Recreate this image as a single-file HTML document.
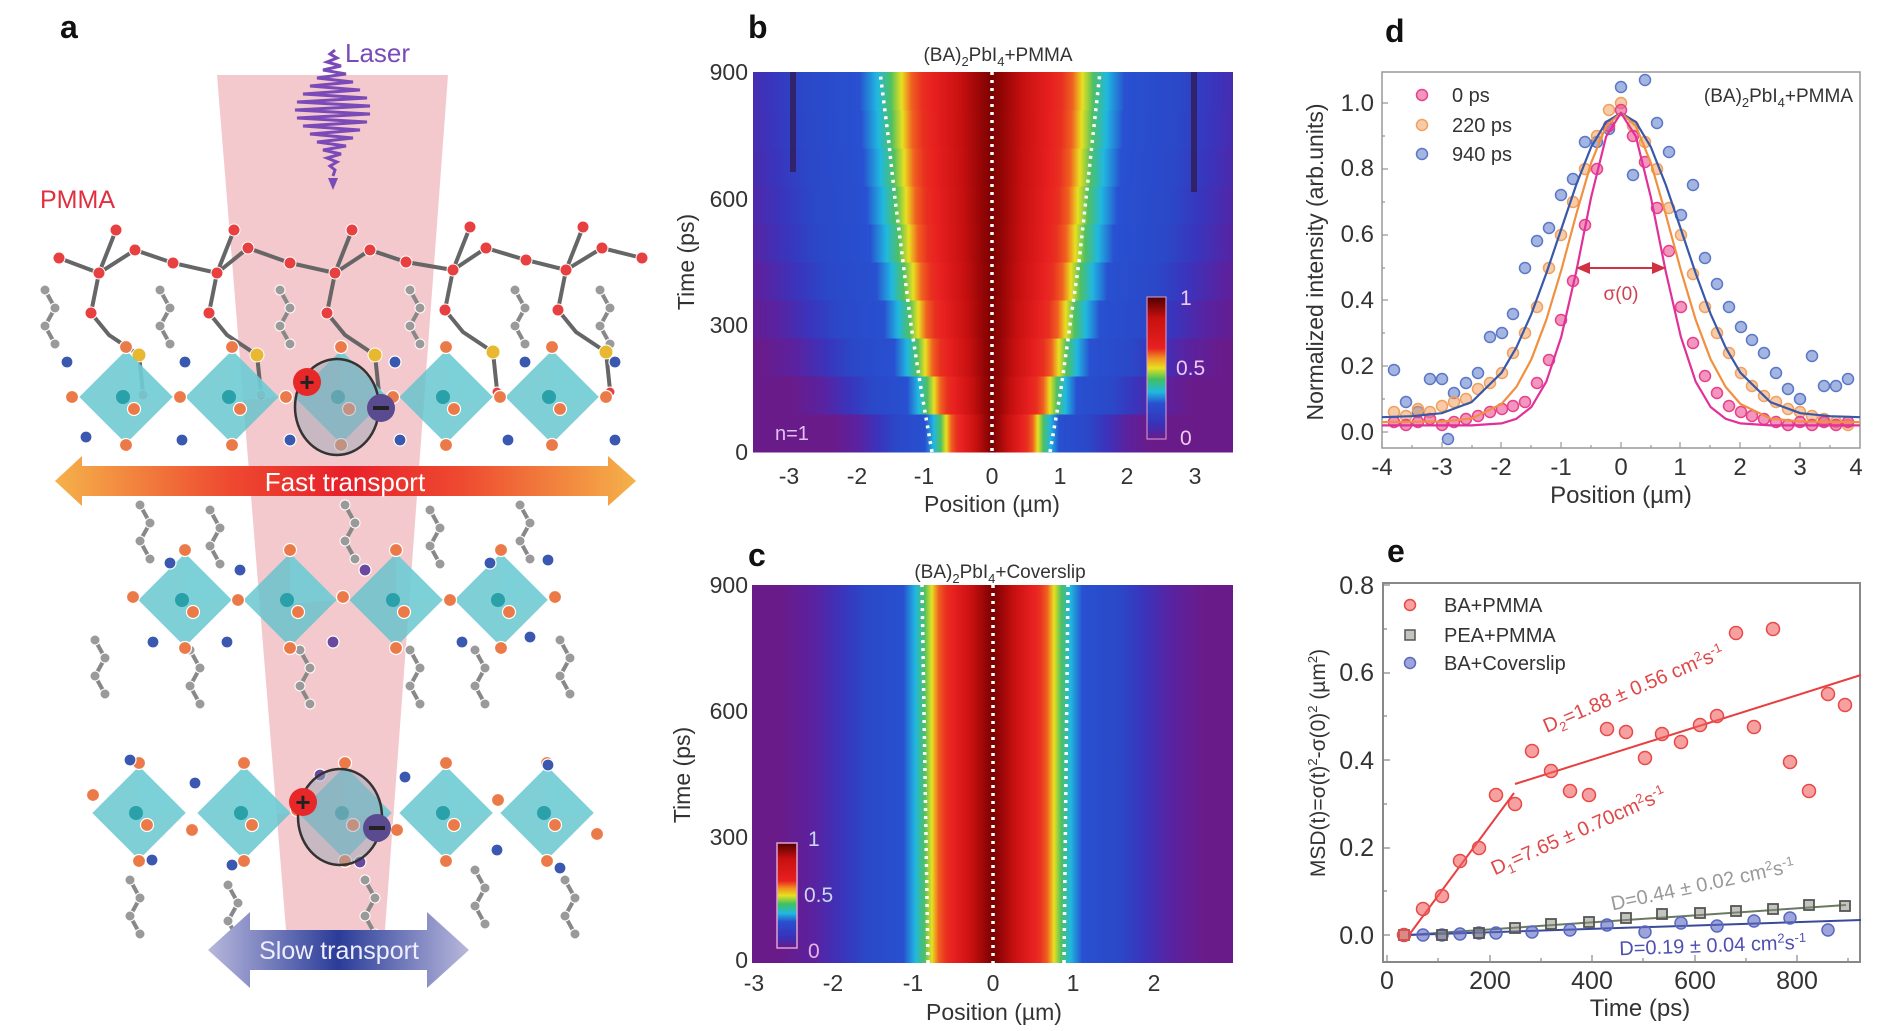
<!DOCTYPE html>
<html><head><meta charset="utf-8">
<style>
html,body{margin:0;padding:0;background:#fff;}
svg{display:block;font-family:"Liberation Sans",Arial,sans-serif;}
</style></head>
<body>
<svg width="1879" height="1031" viewBox="0 0 1879 1031" xmlns="http://www.w3.org/2000/svg" xmlns:xlink="http://www.w3.org/1999/xlink">
<defs>
<linearGradient id="fastg" x1="0" x2="1" y1="0" y2="0">
<stop offset="0" stop-color="#f5b24a"/><stop offset="0.3" stop-color="#ee4a30"/><stop offset="0.5" stop-color="#e8202a"/><stop offset="0.7" stop-color="#ee4a30"/><stop offset="1" stop-color="#f5b24a"/></linearGradient>
<linearGradient id="slowg" x1="0" x2="1" y1="0" y2="0">
<stop offset="0" stop-color="#b8b8dc"/><stop offset="0.5" stop-color="#2a3c98"/><stop offset="1" stop-color="#b8b8dc"/></linearGradient>
<linearGradient id="cbar" x1="0" x2="0" y1="1" y2="0">
<stop offset="0" stop-color="#6a1b8a"/><stop offset="0.1" stop-color="#3a30b8"/><stop offset="0.25" stop-color="#2850d0"/><stop offset="0.33" stop-color="#20b8e0"/><stop offset="0.42" stop-color="#40c060"/><stop offset="0.5" stop-color="#e8e020"/><stop offset="0.57" stop-color="#f09020"/><stop offset="0.64" stop-color="#e82020"/><stop offset="0.85" stop-color="#c81010"/><stop offset="1" stop-color="#500000"/></linearGradient>
<linearGradient id="hg" x1="0" x2="1" y1="0" y2="0">
<stop offset="0" stop-color="#6a1b8a"/>
<stop offset="0.078" stop-color="#5a22a0"/>
<stop offset="0.144" stop-color="#3a34bc"/>
<stop offset="0.2" stop-color="#2a48c8"/>
<stop offset="0.289" stop-color="#2850d0"/>
<stop offset="0.317" stop-color="#20b8e0"/>
<stop offset="0.339" stop-color="#50c060"/>
<stop offset="0.356" stop-color="#e8e020"/>
<stop offset="0.372" stop-color="#f06020"/>
<stop offset="0.389" stop-color="#e83020"/>
<stop offset="0.406" stop-color="#e82020"/>
<stop offset="0.45" stop-color="#c81010"/>
<stop offset="0.5" stop-color="#7a0000"/>
<stop offset="0.55" stop-color="#c81010"/>
<stop offset="0.594" stop-color="#e82020"/>
<stop offset="0.611" stop-color="#e83020"/>
<stop offset="0.628" stop-color="#f06020"/>
<stop offset="0.644" stop-color="#e8e020"/>
<stop offset="0.661" stop-color="#50c060"/>
<stop offset="0.683" stop-color="#20b8e0"/>
<stop offset="0.711" stop-color="#2850d0"/>
<stop offset="0.8" stop-color="#2a48c8"/>
<stop offset="0.856" stop-color="#3a34bc"/>
<stop offset="0.922" stop-color="#5a22a0"/>
<stop offset="1" stop-color="#6a1b8a"/>
</linearGradient>
<linearGradient id="b0" href="#hg" xlink:href="#hg" gradientUnits="userSpaceOnUse" x1="833" x2="1151" y1="0" y2="0"/>
<linearGradient id="b1" href="#hg" xlink:href="#hg" gradientUnits="userSpaceOnUse" x1="791" x2="1193" y1="0" y2="0"/>
<linearGradient id="b2" href="#hg" xlink:href="#hg" gradientUnits="userSpaceOnUse" x1="760" x2="1224" y1="0" y2="0"/>
<linearGradient id="b3" href="#hg" xlink:href="#hg" gradientUnits="userSpaceOnUse" x1="736" x2="1248" y1="0" y2="0"/>
<linearGradient id="b4" href="#hg" xlink:href="#hg" gradientUnits="userSpaceOnUse" x1="718" x2="1266" y1="0" y2="0"/>
<linearGradient id="b5" href="#hg" xlink:href="#hg" gradientUnits="userSpaceOnUse" x1="703" x2="1281" y1="0" y2="0"/>
<linearGradient id="b6" href="#hg" xlink:href="#hg" gradientUnits="userSpaceOnUse" x1="694" x2="1290" y1="0" y2="0"/>
<linearGradient id="b7" href="#hg" xlink:href="#hg" gradientUnits="userSpaceOnUse" x1="687" x2="1297" y1="0" y2="0"/>
<linearGradient id="b8" href="#hg" xlink:href="#hg" gradientUnits="userSpaceOnUse" x1="681" x2="1303" y1="0" y2="0"/>
<linearGradient id="b9" href="#hg" xlink:href="#hg" gradientUnits="userSpaceOnUse" x1="678" x2="1306" y1="0" y2="0"/>
<linearGradient id="cg" href="#hg" xlink:href="#hg" gradientUnits="userSpaceOnUse" x1="781" x2="1205" y1="0" y2="0"/>
<marker id="mp" markerUnits="userSpaceOnUse" markerWidth="16" markerHeight="16" refX="8" refY="8"><circle cx="8" cy="8" r="5.5" fill="#e8408a" fill-opacity="0.55" stroke="#e8408a" stroke-width="1.5"/></marker>
<marker id="mo" markerUnits="userSpaceOnUse" markerWidth="16" markerHeight="16" refX="8" refY="8"><circle cx="8" cy="8" r="5.5" fill="#f0a060" fill-opacity="0.55" stroke="#f0a060" stroke-width="1.5"/></marker>
<marker id="mb" markerUnits="userSpaceOnUse" markerWidth="16" markerHeight="16" refX="8" refY="8"><circle cx="8" cy="8" r="5.5" fill="#5a78c8" fill-opacity="0.55" stroke="#5a78c8" stroke-width="1.5"/></marker>
<marker id="er" markerUnits="userSpaceOnUse" markerWidth="18" markerHeight="18" refX="9" refY="9"><circle cx="9" cy="9" r="6.5" fill="#f06060" fill-opacity="0.6" stroke="#e84848" stroke-width="1.5"/></marker>
<marker id="eg" markerUnits="userSpaceOnUse" markerWidth="16" markerHeight="16" refX="8" refY="8"><rect x="3" y="3" width="10" height="10" fill="#8a8a80" fill-opacity="0.5" stroke="#555" stroke-width="1.8"/></marker>
<marker id="eb" markerUnits="userSpaceOnUse" markerWidth="16" markerHeight="16" refX="8" refY="8"><circle cx="8" cy="8" r="6" fill="#5a68c0" fill-opacity="0.6" stroke="#5a68c0" stroke-width="1.5"/></marker>
<g id="oct">
<rect x="-33" y="-33" width="66" height="66" fill="#5fc3cc" fill-opacity="0.8" transform="rotate(45)"/>
<polygon points="0,-47 47,0 0,4" fill="#7ad0d8" fill-opacity="0.6"/>
<circle cx="-3" cy="0" r="7" fill="#2aa0a8"/>
<circle cx="0" cy="-50" r="6.5" fill="#ec7a48" stroke="#fff" stroke-width="1.2"/>
<circle cx="0" cy="48" r="6.5" fill="#ec7a48" stroke="#fff" stroke-width="1.2"/>
<circle cx="8" cy="12" r="6.5" fill="#ec7a48" stroke="#fff" stroke-width="1.2"/>
</g>
<g id="ch">
<polyline points="0,0 10,18 0,36 10,54" fill="none" stroke="#888" stroke-width="4" stroke-linecap="round"/>
<circle cx="0" cy="0" r="5" fill="#9a9a9a" stroke="#fff" stroke-width="1"/>
<circle cx="10" cy="18" r="5" fill="#9a9a9a" stroke="#fff" stroke-width="1"/>
<circle cx="0" cy="36" r="5" fill="#9a9a9a" stroke="#fff" stroke-width="1"/>
<circle cx="10" cy="54" r="5" fill="#9a9a9a" stroke="#fff" stroke-width="1"/>
</g>
<g id="pend">
<line x1="0" y1="0" x2="17" y2="-43" stroke="#666" stroke-width="4"/>
<polyline points="0,0 -8,40 10,62 40,82 44,120" fill="none" stroke="#666" stroke-width="4"/>
<circle cx="17" cy="-43" r="6" fill="#e84040" stroke="#fff" stroke-width="1"/>
<circle cx="-8" cy="40" r="6" fill="#e84040" stroke="#fff" stroke-width="1"/>
<circle cx="40" cy="82" r="7" fill="#e8b830" stroke="#fff" stroke-width="1"/>
<circle cx="44" cy="122" r="5" fill="#e84040" stroke="#fff" stroke-width="1"/>
</g>
</defs>

<!-- ============ PANEL A ============ -->
<polygon points="217,75 448,75 385,930 286,930" fill="#f2c0c4" fill-opacity="0.85"/>
<polyline fill="none" stroke="#7a4ab8" stroke-width="3" points="335,50 330,54 337,58 327,62 341,66 323,70 346,74 317,78 353,82 310,86 360,90 303,94 367,98 297,102 370,106 295,110 370,114 297,118 367,122 303,126 360,130 310,134 353,138 317,142 346,146 323,150 341,154 327,158 337,162 330,166 335,170 333,176"/>
<polygon points="328,178 338,178 333,190" fill="#7a4ab8"/>
<text x="345" y="62" font-size="26" fill="#7a4ab8">Laser</text>
<text x="40" y="208" font-size="25" fill="#e03040">PMMA</text>

<use href="#ch" xlink:href="#ch" x="45" y="290"/>
<use href="#ch" xlink:href="#ch" x="160" y="290"/>
<use href="#ch" xlink:href="#ch" x="280" y="290"/>
<use href="#ch" xlink:href="#ch" x="410" y="290"/>
<use href="#ch" xlink:href="#ch" x="515" y="290"/>
<use href="#ch" xlink:href="#ch" x="600" y="290"/>
<polyline fill="none" stroke="#666" stroke-width="4" points="59,258 99,273 135,250 173,263 217,273 248,248 290,263 335,273 370,250 406,262 453,270 486,248 526,260 566,270 602,248 642,258"/>
<use href="#pend" xlink:href="#pend" x="99" y="273"/>
<use href="#pend" xlink:href="#pend" x="217" y="273"/>
<use href="#pend" xlink:href="#pend" x="335" y="273"/>
<use href="#pend" xlink:href="#pend" x="453" y="270"/>
<use href="#pend" xlink:href="#pend" x="566" y="270"/>
<g fill="#e84040" stroke="#fff" stroke-width="1">
<circle cx="59" cy="258" r="6"/><circle cx="99" cy="273" r="6"/><circle cx="135" cy="250" r="6"/><circle cx="173" cy="263" r="6"/><circle cx="217" cy="273" r="6"/><circle cx="248" cy="248" r="6"/><circle cx="290" cy="263" r="6"/><circle cx="335" cy="273" r="6"/><circle cx="370" cy="250" r="6"/><circle cx="406" cy="262" r="6"/><circle cx="453" cy="270" r="6"/><circle cx="486" cy="248" r="6"/><circle cx="526" cy="260" r="6"/><circle cx="566" cy="270" r="6"/><circle cx="602" cy="248" r="6"/><circle cx="642" cy="258" r="6"/>
</g>
<use href="#oct" xlink:href="#oct" x="126" y="397"/>
<use href="#oct" xlink:href="#oct" x="232" y="397"/>
<use href="#oct" xlink:href="#oct" x="341" y="397"/>
<use href="#oct" xlink:href="#oct" x="446" y="397"/>
<use href="#oct" xlink:href="#oct" x="552" y="397"/>
<g fill="#ec7a48" stroke="#fff" stroke-width="1.2"><circle cx="72" cy="397" r="6.5"/><circle cx="180" cy="397" r="6.5"/><circle cx="286" cy="397" r="6.5"/><circle cx="393" cy="397" r="6.5"/><circle cx="500" cy="397" r="6.5"/><circle cx="606" cy="397" r="6.5"/></g>
<g fill="#3a58b0" stroke="#fff" stroke-width="1.2"><circle cx="67" cy="362" r="6"/><circle cx="185" cy="362" r="6"/><circle cx="395" cy="362" r="6"/><circle cx="525" cy="362" r="6"/><circle cx="615" cy="362" r="6"/><circle cx="86" cy="437" r="6"/><circle cx="182" cy="440" r="6"/><circle cx="290" cy="440" r="6"/><circle cx="400" cy="440" r="6"/><circle cx="508" cy="440" r="6"/><circle cx="615" cy="440" r="6"/></g>
<use href="#ch" xlink:href="#ch" x="140" y="505"/>
<use href="#ch" xlink:href="#ch" x="210" y="510"/>
<use href="#ch" xlink:href="#ch" x="345" y="505"/>
<use href="#ch" xlink:href="#ch" x="430" y="510"/>
<use href="#ch" xlink:href="#ch" x="520" y="505"/>
<use href="#ch" xlink:href="#ch" x="95" y="640"/>
<use href="#ch" xlink:href="#ch" x="190" y="650"/>
<use href="#ch" xlink:href="#ch" x="300" y="650"/>
<use href="#ch" xlink:href="#ch" x="410" y="650"/>
<use href="#ch" xlink:href="#ch" x="475" y="650"/>
<use href="#ch" xlink:href="#ch" x="560" y="640"/>
<polygon points="55,481 82,456 82,466 608,466 608,456 636,481 608,506 608,496 82,496 82,506" fill="url(#fastg)"/>
<text x="345" y="491" text-anchor="middle" fill="#fff" font-size="26">Fast  transport</text>
<use href="#oct" xlink:href="#oct" x="185" y="600"/>
<use href="#oct" xlink:href="#oct" x="290" y="600"/>
<use href="#oct" xlink:href="#oct" x="396" y="600"/>
<use href="#oct" xlink:href="#oct" x="501" y="600"/>
<g fill="#ec7a48" stroke="#fff" stroke-width="1.2"><circle cx="133" cy="597" r="6.5"/><circle cx="238" cy="600" r="6.5"/><circle cx="343" cy="597" r="6.5"/><circle cx="450" cy="600" r="6.5"/><circle cx="555" cy="597" r="6.5"/></g>
<g fill="#3a58b0" stroke="#fff" stroke-width="1.2"><circle cx="170" cy="563" r="6"/><circle cx="240" cy="570" r="6"/><circle cx="490" cy="563" r="6"/><circle cx="548" cy="560" r="6"/><circle cx="153" cy="642" r="6"/><circle cx="227" cy="642" r="6"/><circle cx="462" cy="642" r="6"/><circle cx="530" cy="637" r="6"/></g>
<g fill="#6a48a0" stroke="#fff" stroke-width="1.2"><circle cx="365" cy="570" r="6"/><circle cx="333" cy="642" r="6"/></g>
<use href="#oct" xlink:href="#oct" x="139" y="813"/>
<use href="#oct" xlink:href="#oct" x="244" y="813"/>
<use href="#oct" xlink:href="#oct" x="345" y="813"/>
<use href="#oct" xlink:href="#oct" x="446" y="813"/>
<use href="#oct" xlink:href="#oct" x="547" y="813"/>
<g fill="#ec7a48" stroke="#fff" stroke-width="1.2"><circle cx="93" cy="795" r="6.5"/><circle cx="192" cy="830" r="6.5"/><circle cx="297" cy="810" r="6.5"/><circle cx="397" cy="830" r="6.5"/><circle cx="498" cy="800" r="6.5"/><circle cx="597" cy="834" r="6.5"/></g>
<g fill="#3a58b0" stroke="#fff" stroke-width="1.2"><circle cx="130" cy="760" r="6"/><circle cx="195" cy="783" r="6"/><circle cx="405" cy="777" r="6"/><circle cx="548" cy="765" r="6"/><circle cx="152" cy="860" r="6"/><circle cx="232" cy="865" r="6"/><circle cx="497" cy="850" r="6"/><circle cx="560" cy="868" r="6"/></g>
<g fill="#6a48a0" stroke="#fff" stroke-width="1.2"><circle cx="320" cy="775" r="6"/><circle cx="360" cy="862" r="6"/></g>
<use href="#ch" xlink:href="#ch" x="130" y="880"/>
<use href="#ch" xlink:href="#ch" x="228" y="885"/>
<use href="#ch" xlink:href="#ch" x="365" y="880"/>
<use href="#ch" xlink:href="#ch" x="475" y="870"/>
<use href="#ch" xlink:href="#ch" x="565" y="880"/>
<ellipse cx="337" cy="407" rx="42" ry="48" fill="#9aa8b8" fill-opacity="0.5" stroke="#333" stroke-width="2.5"/>
<circle cx="307" cy="382" r="14" fill="#e82828"/>
<text x="307" y="391" text-anchor="middle" font-size="26" font-weight="bold" fill="#222">+</text>
<circle cx="381" cy="408" r="14" fill="#5a4a90"/><rect x="373" y="406" width="16" height="4" fill="#222"/>
<ellipse cx="340" cy="817" rx="42" ry="48" fill="#9aa8b8" fill-opacity="0.5" stroke="#333" stroke-width="2.5"/>
<circle cx="303" cy="802" r="14" fill="#e82828"/>
<text x="303" y="811" text-anchor="middle" font-size="26" font-weight="bold" fill="#222">+</text>
<circle cx="377" cy="828" r="14" fill="#5a4a90"/><rect x="369" y="826" width="16" height="4" fill="#222"/>
<polygon points="208,950 250,912 250,930 427,930 427,912 469,950 427,988 427,970 250,970 250,988" fill="url(#slowg)"/>
<text x="339" y="959" text-anchor="middle" fill="#eef" font-size="25">Slow  transport</text>

<!-- ============ PANEL B ============ -->
<g>
<rect x="753" y="414" width="480" height="38.5" fill="url(#b0)"/>
<rect x="753" y="376" width="480" height="38.5" fill="url(#b1)"/>
<rect x="753" y="338" width="480" height="38.5" fill="url(#b2)"/>
<rect x="753" y="300" width="480" height="38.5" fill="url(#b3)"/>
<rect x="753" y="262" width="480" height="38.5" fill="url(#b4)"/>
<rect x="753" y="224" width="480" height="38.5" fill="url(#b5)"/>
<rect x="753" y="186" width="480" height="38.5" fill="url(#b6)"/>
<rect x="753" y="148" width="480" height="38.5" fill="url(#b7)"/>
<rect x="753" y="110" width="480" height="38.5" fill="url(#b8)"/>
<rect x="753" y="72" width="480" height="38.5" fill="url(#b9)"/>
<rect x="790" y="72" width="6" height="100" fill="#301030" fill-opacity="0.6"/>
<rect x="1191" y="72" width="6" height="120" fill="#301030" fill-opacity="0.6"/>
<g fill="none" stroke="#fff" stroke-width="3.5" stroke-dasharray="3,5">
<polyline points="932,452 921,389 911,325 903,262 895,199 888,135 880,72"/>
<polyline points="1050,452 1061,389 1070,325 1079,262 1086,199 1093,135 1100,72"/>
<line x1="992" y1="72" x2="992" y2="452"/>
</g>
<rect x="1147" y="297" width="19" height="142" fill="url(#cbar)" stroke="#e0a0d0" stroke-width="1"/>
<g fill="#f0c8f0" font-size="21"><text x="1180" y="305">1</text><text x="1176" y="375">0.5</text><text x="1180" y="445">0</text></g>
<text x="775" y="440" fill="#e0c0f0" font-size="20">n=1</text>
</g>
<g fill="#333">
<text x="998" y="61" text-anchor="middle" font-size="19">(BA)<tspan font-size="13" dy="5">2</tspan><tspan dy="-5">PbI</tspan><tspan font-size="13" dy="5">4</tspan><tspan dy="-5">+PMMA</tspan></text>
<g text-anchor="end" font-size="23"><text x="748" y="80">900</text><text x="748" y="207">600</text><text x="748" y="333">300</text><text x="748" y="460">0</text></g>
<g text-anchor="middle" font-size="23"><text x="789" y="484">-3</text><text x="857" y="484">-2</text><text x="924" y="484">-1</text><text x="992" y="484">0</text><text x="1060" y="484">1</text><text x="1127" y="484">2</text><text x="1195" y="484">3</text></g>
<text x="992" y="512" text-anchor="middle" font-size="23">Position (µm)</text>
<text transform="translate(694,262) rotate(-90)" text-anchor="middle" font-size="23">Time (ps)</text>
</g>

<!-- ============ PANEL C ============ -->
<g>
<rect x="752" y="585" width="481" height="378" fill="url(#cg)"/>
<g fill="none" stroke="#fff" stroke-width="3.5" stroke-dasharray="3,5">
<line x1="928" y1="963" x2="922" y2="585"/>
<line x1="1064" y1="963" x2="1068" y2="585"/>
<line x1="993" y1="585" x2="993" y2="963"/>
</g>
<rect x="777" y="843" width="20" height="105" fill="url(#cbar)" stroke="#e0a0d0" stroke-width="1.5"/>
<g font-size="21"><text x="808" y="846" fill="#c8d8f0">1</text><text x="804" y="902" fill="#c8d8f0">0.5</text><text x="808" y="958" fill="#f0b0e0">0</text></g>
</g>
<g fill="#333">
<text x="1000" y="578" text-anchor="middle" font-size="19">(BA)<tspan font-size="13" dy="5">2</tspan><tspan dy="-5">PbI</tspan><tspan font-size="13" dy="5">4</tspan><tspan dy="-5">+Coverslip</tspan></text>
<g text-anchor="end" font-size="23"><text x="748" y="593">900</text><text x="748" y="719">600</text><text x="748" y="845">300</text><text x="748" y="968">0</text></g>
<g text-anchor="middle" font-size="23"><text x="754" y="991">-3</text><text x="833" y="991">-2</text><text x="913" y="991">-1</text><text x="993" y="991">0</text><text x="1073" y="991">1</text><text x="1154" y="991">2</text></g>
<text x="994" y="1020" text-anchor="middle" font-size="23">Position (µm)</text>
<text transform="translate(690,775) rotate(-90)" text-anchor="middle" font-size="23">Time (ps)</text>
</g>

<!-- ============ PANEL D ============ -->
<rect x="1382" y="72" width="478" height="376" fill="none" stroke="#999" stroke-width="1.5"/>
<g stroke="#999" stroke-width="1.2">
<path d="M1382,448v-6M1412,448v-3M1442,448v-6M1472,448v-3M1501,448v-6M1531,448v-3M1561,448v-6M1591,448v-3M1621,448v-6M1651,448v-3M1680,448v-6M1710,448v-3M1740,448v-6M1770,448v-3M1800,448v-6M1830,448v-3"/>
<path d="M1382,432h6M1382,399h3M1382,366h6M1382,333h3M1382,300h6M1382,268h3M1382,235h6M1382,202h3M1382,169h6M1382,136h3M1382,103h6"/>
</g>
<polyline fill="none" stroke="none" marker-start="url(#mb)" marker-mid="url(#mb)" marker-end="url(#mb)" points="1394,370 1406,402 1418,412 1430,379 1442,379 1448,439 1454,393 1466,383 1478,373 1490,337 1502,333 1513,314 1525,268 1537,241 1549,228 1561,195 1573,179 1585,142 1597,142 1609,129 1621,87 1633,175 1645,80 1657,123 1669,152 1681,215 1693,185 1705,258 1717,284 1729,307 1741,327 1752,340 1764,353 1776,373 1788,389 1800,399 1812,356 1824,386 1836,386 1848,379"/>
<polyline fill="none" stroke="none" marker-start="url(#mo)" marker-mid="url(#mo)" marker-end="url(#mo)" points="1394,412 1406,416 1418,409 1430,412 1442,406 1454,402 1466,399 1478,389 1490,383 1502,373 1513,353 1525,333 1537,307 1549,268 1561,235 1573,202 1585,169 1597,136 1609,110 1621,103 1633,126 1645,142 1657,169 1669,208 1681,235 1693,274 1705,307 1717,333 1729,353 1741,373 1752,386 1764,396 1776,402 1788,409 1800,412 1812,416 1824,419 1836,422 1848,425"/>
<polyline fill="none" stroke="none" marker-start="url(#mp)" marker-mid="url(#mp)" marker-end="url(#mp)" points="1394,422 1406,425 1418,422 1430,419 1442,425 1454,422 1466,419 1478,416 1490,412 1502,409 1513,406 1525,402 1537,383 1549,360 1561,320 1573,281 1585,225 1597,169 1609,126 1621,110 1633,136 1645,162 1657,208 1669,251 1681,307 1693,343 1705,376 1717,393 1729,406 1741,412 1752,416 1764,419 1776,422 1788,425 1800,422 1812,425 1824,422 1836,425 1848,422"/>
<g fill="none" stroke-width="2.2" stroke-linejoin="round">
<polyline stroke="#3858a8" points="1382,417.2 1411.9,416.2 1441.7,413.2 1471.6,402.1 1501.5,372.8 1516.4,347.4 1531.4,313.9 1546.3,273.4 1561.3,229 1576.2,184.9 1591.1,147.1 1606.1,122.1 1621,112.9 1635.9,122.1 1650.9,147.1 1665.8,184.9 1680.8,229 1695.7,273.4 1710.6,313.9 1725.6,347.4 1740.5,372.8 1770.4,402.1 1800.3,413.2 1830.1,416.2 1860,417.2"/>
<polyline stroke="#f09040" points="1382,422.1 1441.7,421.5 1471.6,418.5 1501.5,404 1516.4,386.9 1531.4,359.3 1546.3,319.8 1561.3,270.1 1576.2,214.5 1591.1,162.9 1606.1,126 1621,112.9 1635.9,126 1650.9,162.9 1665.8,214.5 1680.8,270.1 1695.7,319.8 1710.6,359.3 1725.6,386.9 1740.5,404 1770.4,418.5 1800.3,421.5 1860,422.1"/>
<polyline stroke="#e0309a" points="1382,425.4 1471.6,425.4 1501.5,423.4 1516.4,418.8 1531.4,407 1546.3,381.7 1561.3,336.6 1576.2,271.8 1591.1,197.4 1606.1,136.6 1621,112.9 1635.9,136.6 1650.9,197.4 1665.8,271.8 1680.8,336.6 1695.7,381.7 1710.6,407 1725.6,418.8 1740.5,423.4 1770.4,425.4 1860,425.4"/>
</g>
<line x1="1580" y1="268" x2="1662" y2="268" stroke="#d03040" stroke-width="2"/>
<polygon points="1576,268 1590,262 1590,274" fill="#d03040"/>
<polygon points="1666,268 1652,262 1652,274" fill="#d03040"/>
<circle cx="1422" cy="95" r="5.5" fill="#e8408a" fill-opacity="0.55" stroke="#e8408a" stroke-width="1.5"/>
<circle cx="1422" cy="125" r="5.5" fill="#f0a060" fill-opacity="0.55" stroke="#f0a060" stroke-width="1.5"/>
<circle cx="1422" cy="154" r="5.5" fill="#5a78c8" fill-opacity="0.55" stroke="#5a78c8" stroke-width="1.5"/>
<g fill="#333">
<g text-anchor="end" font-size="24"><text x="1374" y="440">0.0</text><text x="1374" y="374">0.2</text><text x="1374" y="308">0.4</text><text x="1374" y="242">0.6</text><text x="1374" y="176">0.8</text><text x="1374" y="111">1.0</text></g>
<g text-anchor="middle" font-size="24"><text x="1382" y="475">-4</text><text x="1442" y="475">-3</text><text x="1501" y="475">-2</text><text x="1561" y="475">-1</text><text x="1621" y="475">0</text><text x="1680" y="475">1</text><text x="1740" y="475">2</text><text x="1800" y="475">3</text><text x="1856" y="475">4</text></g>
<text x="1621" y="503" text-anchor="middle" font-size="24">Position (µm)</text>
<text transform="translate(1323,262) rotate(-90)" text-anchor="middle" font-size="23">Normalized intensity (arb.units)</text>
<g font-size="20"><text x="1452" y="102">0 ps</text><text x="1452" y="132">220 ps</text><text x="1452" y="161">940 ps</text></g>
<text x="1853" y="102" text-anchor="end" font-size="19">(BA)<tspan font-size="13" dy="5">2</tspan><tspan dy="-5">PbI</tspan><tspan font-size="13" dy="5">4</tspan><tspan dy="-5">+PMMA</tspan></text>
<text x="1621" y="300" text-anchor="middle" font-size="19" fill="#d04050">σ(0)</text>
</g>

<!-- ============ PANEL E ============ -->
<rect x="1383" y="583" width="477" height="379" fill="none" stroke="#888" stroke-width="2"/>
<g stroke="#888" stroke-width="1.2">
<path d="M1387,962v-7M1438,962v-4M1490,962v-7M1541,962v-4M1592,962v-7M1643,962v-4M1695,962v-7M1746,962v-4M1797,962v-7M1848,962v-4"/>
<path d="M1383,935h7M1383,891h4M1383,848h7M1383,804h4M1383,760h7M1383,716h4M1383,673h7M1383,629h4M1383,585h7"/>
</g>
<line x1="1408" y1="935" x2="1846" y2="905" stroke="#6a7a60" stroke-width="2"/>
<line x1="1408" y1="935" x2="1861" y2="920" stroke="#3a4a98" stroke-width="2"/>
<line x1="1409" y1="935" x2="1514" y2="793" stroke="#e84040" stroke-width="2"/>
<line x1="1515" y1="784" x2="1861" y2="675" stroke="#e84040" stroke-width="2"/>
<polyline fill="none" stroke="none" marker-start="url(#eb)" marker-mid="url(#eb)" marker-end="url(#eb)" points="1423,935 1442,935 1460,934 1479,933 1496,933 1532,932 1570,930 1607,925 1645,932 1681,923 1717,926 1754,921 1790,918 1828,930"/>
<polyline fill="none" stroke="none" marker-start="url(#eg)" marker-mid="url(#eg)" marker-end="url(#eg)" points="1404,935 1442,935 1479,933 1515,928 1551,924 1589,922 1626,918 1662,914 1700,913 1736,911 1773,909 1809,905 1845,906"/>
<polyline fill="none" stroke="none" marker-start="url(#er)" marker-mid="url(#er)" marker-end="url(#er)" points="1404,935 1423,909 1442,896 1460,861 1479,848 1496,795 1515,804 1532,751 1551,771 1570,791 1589,795 1607,729 1626,732 1645,758 1662,734 1681,742 1700,725 1717,716 1736,633 1754,727 1773,629 1790,762 1809,791 1828,694 1845,705"/>
<circle cx="1410" cy="605" r="5.5" fill="#f06060" fill-opacity="0.6" stroke="#e84848" stroke-width="1.5"/>
<rect x="1405" y="630" width="10" height="10" fill="#8a8a80" fill-opacity="0.5" stroke="#555" stroke-width="1.5"/>
<circle cx="1410" cy="663" r="5.5" fill="#5a68c0" fill-opacity="0.6" stroke="#5a68c0" stroke-width="1.5"/>
<g fill="#333">
<g text-anchor="end" font-size="25"><text x="1374" y="944">0.0</text><text x="1374" y="856">0.2</text><text x="1374" y="769">0.4</text><text x="1374" y="681">0.6</text><text x="1374" y="594">0.8</text></g>
<g text-anchor="middle" font-size="25"><text x="1387" y="989">0</text><text x="1490" y="989">200</text><text x="1592" y="989">400</text><text x="1695" y="989">600</text><text x="1797" y="989">800</text></g>
<text x="1640" y="1016" text-anchor="middle" font-size="24">Time (ps)</text>
<text transform="translate(1325,763) rotate(-90)" text-anchor="middle" font-size="21">MSD(t)=σ(t)<tspan font-size="13" dy="-8">2</tspan><tspan dy="8">-σ(0)</tspan><tspan font-size="13" dy="-8">2</tspan><tspan dy="8"> (µm</tspan><tspan font-size="13" dy="-8">2</tspan><tspan dy="8">)</tspan></text>
<g font-size="20"><text x="1444" y="612">BA+PMMA</text><text x="1444" y="642">PEA+PMMA</text><text x="1444" y="670">BA+Coverslip</text></g>
<g font-size="20">
<text transform="translate(1636,695) rotate(-23)" text-anchor="middle" fill="#e04848">D<tspan font-size="13" dy="5">2</tspan><tspan dy="-5">=1.88 ± 0.56 cm</tspan><tspan font-size="13" dy="-7">2</tspan><tspan dy="7">s</tspan><tspan font-size="13" dy="-7">-1</tspan></text>
<text transform="translate(1581,837) rotate(-24)" text-anchor="middle" fill="#e04848">D<tspan font-size="13" dy="5">1</tspan><tspan dy="-5">=7.65 ± 0.70cm</tspan><tspan font-size="13" dy="-7">2</tspan><tspan dy="7">s</tspan><tspan font-size="13" dy="-7">-1</tspan></text>
<text transform="translate(1704,891) rotate(-12)" text-anchor="middle" fill="#999">D=0.44 ± 0.02 cm<tspan font-size="13" dy="-7">2</tspan><tspan dy="7">s</tspan><tspan font-size="13" dy="-7">-1</tspan></text>
<text transform="translate(1713,952) rotate(-2)" text-anchor="middle" fill="#5050b0">D=0.19 ± 0.04 cm<tspan font-size="13" dy="-7">2</tspan><tspan dy="7">s</tspan><tspan font-size="13" dy="-7">-1</tspan></text>
</g>
</g>

<g font-weight="bold" font-size="32" fill="#111">
<text x="60" y="38">a</text>
<text x="748" y="38">b</text>
<text x="748" y="566">c</text>
<text x="1385" y="42">d</text>
<text x="1387" y="562">e</text>
</g>
</svg>
</body></html>
